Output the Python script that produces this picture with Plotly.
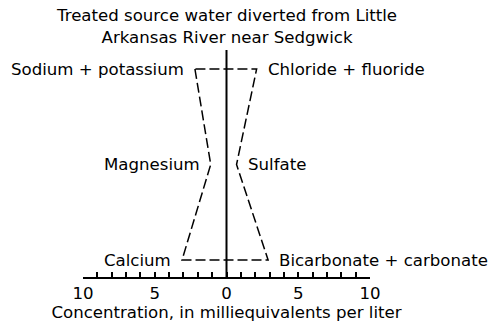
import plotly.graph_objects as go

# Data (milliequivalents per liter)
cation_names = ["Sodium + potassium", "Magnesium", "Calcium"]
anion_names = ["Chloride + fluoride", "Sulfate", "Bicarbonate + carbonate"]
cation_values = [2.2, 1.1, 3.1]
anion_values = [2.1, 0.7, 2.9]
row_positions = [3, 2, 1]
tick_values = list(range(-10, 11))
tick_labels = [str(abs(v)) if v % 5 == 0 else "" for v in tick_values]
title_text = "Treated source water diverted from Little<br>Arkansas River near Sedgwick"
axis_title = "Concentration, in milliequivalents per liter"

FONT = "DejaVu Sans"
FS = 16.6

# Stiff polygon: cations on the left (negative), anions on the right
poly_x = [-v for v in cation_values] + anion_values[::-1] + [-cation_values[0]]
poly_y = row_positions + row_positions[::-1] + [row_positions[0]]

fig = go.Figure()
fig.add_trace(go.Scatter(
    x=poly_x, y=poly_y, mode="lines",
    line=dict(color="black", width=1.5, dash="10px,4px"),
    hoverinfo="skip", showlegend=False,
))

fig.add_shape(type="line", xref="x", yref="paper", x0=0, x1=0, y0=0, y1=1,
              line=dict(color="black", width=2))

for name, v, y in zip(cation_names, cation_values, row_positions):
    fig.add_annotation(x=-v, y=y, text=name, showarrow=False, xanchor="right",
                       yanchor="middle", xshift=-9, font=dict(family=FONT, size=FS, color="black"))
for name, v, y in zip(anion_names, anion_values, row_positions):
    fig.add_annotation(x=v, y=y, text=name, showarrow=False, xanchor="left",
                       yanchor="middle", xshift=9, font=dict(family=FONT, size=FS, color="black"))

# Title as a centered two-line annotation above the plot
fig.add_annotation(x=0.5, xref="paper", y=1, yref="paper", yanchor="bottom",
                   xanchor="center", yshift=1, showarrow=False, text=title_text,
                   font=dict(family=FONT, size=FS, color="black"))

fig.update_layout(
    width=502, height=330,
    margin=dict(l=83, r=132, t=50, b=53),
    paper_bgcolor="white", plot_bgcolor="white",
    font=dict(family=FONT, size=FS, color="black"),
    hovermode=False,
    xaxis=dict(range=[-10, 10], tickvals=tick_values, ticktext=tick_labels,
               ticks="inside", ticklen=5, tickwidth=1.5, tickcolor="black",
               showline=True, linecolor="black", linewidth=2,
               showgrid=False, zeroline=False,
               title=dict(text=axis_title, standoff=2, font=dict(family=FONT, size=FS)),
               tickfont=dict(family=FONT, size=FS)),
    yaxis=dict(range=[0.822, 3.199], visible=False, showgrid=False, zeroline=False),
)

fig.write_html("out.html", config={"displayModeBar": False},
               post_script="document.body.style.margin='0';")
